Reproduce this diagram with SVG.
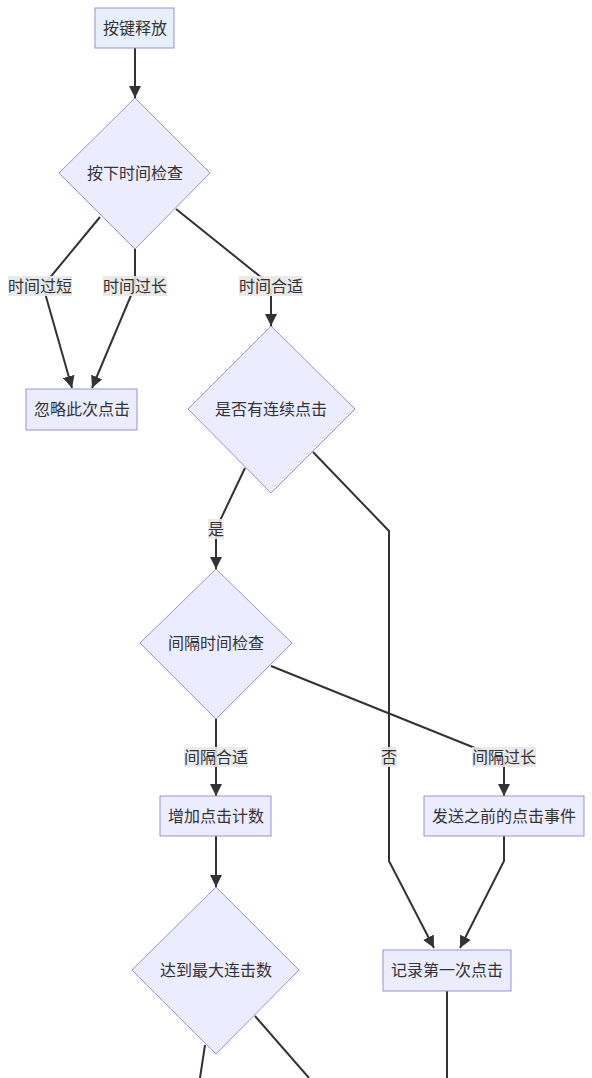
<svg xmlns="http://www.w3.org/2000/svg" width="592" height="1078" viewBox="0 0 592 1078">
<style>
.n{fill:#ececff;stroke:#9b8fd6;stroke-width:1}
.s{fill:#e6f0fd;stroke:#9b8fd6;stroke-width:1}
.t{font-family:"Liberation Sans","Noto Sans CJK SC",sans-serif;font-size:16px;fill:#333;text-anchor:middle;dominant-baseline:central}
.e{fill:none;stroke:#333;stroke-width:2}
.lb{fill:#e8e8e8;opacity:0.9}
</style>
<defs>
<marker id="ah" markerUnits="userSpaceOnUse" viewBox="0 0 10 10" refX="10" refY="5" markerWidth="12" markerHeight="12" orient="auto">
<path d="M0,0 L10,5 L0,10 z" fill="#333"/>
</marker>
</defs>
<rect width="592" height="1078" fill="#fff"/>
<g id="edges">
<path class="e" d="M135,48 L135,98" marker-end="url(#ah)"/>
<path class="e" d="M100,217 L43,286 L72,388" marker-end="url(#ah)"/>
<path class="e" d="M135,249 L135,286 L92,388" marker-end="url(#ah)"/>
<path class="e" d="M176,209 L262,278 L271,290 L271,326" marker-end="url(#ah)"/>
<path class="e" d="M245,468 L216,529 L216,569" marker-end="url(#ah)"/>
<path class="e" d="M313,452 L389,531 L389,861 L434,948" marker-end="url(#ah)"/>
<path class="e" d="M271,666 L475,748 L504,760 L504,796" marker-end="url(#ah)"/>
<path class="e" d="M216,719 L216,796" marker-end="url(#ah)"/>
<path class="e" d="M216,836 L216,887" marker-end="url(#ah)"/>
<path class="e" d="M504,836 L504,861 L460,948" marker-end="url(#ah)"/>
<path class="e" d="M447,991 L447,1078"/>
<path class="e" d="M205,1045 L200,1078"/>
<path class="e" d="M255,1016 L309,1078"/>
<g id="edge-labels">
<rect class="lb" x="8" y="276" width="64" height="20"/><text class="t" x="40" y="286">时间过短</text>
<rect class="lb" x="103" y="276" width="64" height="20"/><text class="t" x="135" y="286">时间过长</text>
<rect class="lb" x="239" y="276" width="64" height="20"/><text class="t" x="271" y="286">时间合适</text>
<rect class="lb" x="208" y="519" width="16" height="20"/><text class="t" x="216" y="529">是</text>
<rect class="lb" x="381" y="747" width="16" height="20"/><text class="t" x="389" y="757">否</text>
<rect class="lb" x="184" y="747" width="64" height="20"/><text class="t" x="216" y="757">间隔合适</text>
<rect class="lb" x="472" y="747" width="64" height="20"/><text class="t" x="504" y="757">间隔过长</text>
</g>
</g>
<g id="n1"><rect class="s" x="95" y="8" width="79" height="40"/><text class="t" x="135" y="28">按键释放</text></g>
<g id="n2"><polygon class="n" points="135,98 210,173 135,249 59,173"/><text class="t" x="135" y="173">按下时间检查</text></g>
<g id="n3"><rect class="n" x="26" y="389" width="111" height="41"/><text class="t" x="82" y="409">忽略此次点击</text></g>
<g id="n4"><polygon class="n" points="271,326 355,409 271,493 188,409"/><text class="t" x="271" y="409">是否有连续点击</text></g>
<g id="n5"><polygon class="n" points="216,569 292,643 216,719 140,643"/><text class="t" x="216" y="643">间隔时间检查</text></g>
<g id="n6"><rect class="n" x="160" y="796" width="111" height="40"/><text class="t" x="216" y="816">增加点击计数</text></g>
<g id="n7"><rect class="n" x="424" y="796" width="160" height="40"/><text class="t" x="504" y="816">发送之前的点击事件</text></g>
<g id="n8"><polygon class="n" points="216,887 299,970 216,1054 132,970"/><text class="t" x="216" y="970">达到最大连击数</text></g>
<g id="n9"><rect class="n" x="383" y="950" width="128" height="41"/><text class="t" x="447" y="970">记录第一次点击</text></g>
</svg>
